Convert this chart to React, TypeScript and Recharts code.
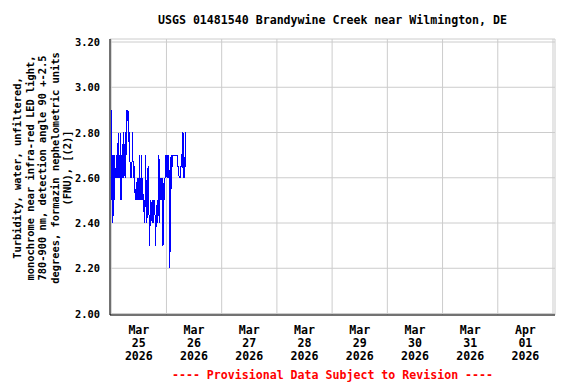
import React from 'react';
import { LineChart, Line, XAxis, YAxis, CartesianGrid } from 'recharts';

// 15-minute turbidity readings (FNU), starting Mar 25 2026 00:00
const turbidity = [
  2.9, 2.5, 2.7, 2.4,
  2.7, 2.5, 2.7, 2.6,
  2.6, 2.7, 2.6, 2.6,
  2.8, 2.6, 2.7, 2.6,
  2.8, 2.5, 2.7, 2.6,
  2.7, 2.8, 2.6, 2.75,
  2.6, 2.8, 2.7, 2.9,
  2.85, 2.9, 2.85, 2.75,
  2.8, 2.6, 2.65, 2.6,
  2.65, 2.8, 2.65, 2.6,
  2.65, 2.55, 2.5, 2.55,
  2.5, 2.6, 2.5, 2.6,
  2.5, 2.7, 2.5, 2.6,
  2.5, 2.7, 2.5, 2.55,
  2.45, 2.5, 2.4, 2.5,
  2.7, 2.45, 2.4, 2.5,
  2.65, 2.5, 2.4, 2.3,
  2.5, 2.4, 2.45, 2.5,
  2.4, 2.5, 2.4, 2.5,
  2.45, 2.3, 2.4, 2.45,
  2.5, 2.4, 2.5, 2.7,
  2.4, 2.6, 2.5, 2.6,
  2.5, 2.6, 2.3, 2.5,
  2.6, 2.5, 2.7, 2.6,
  2.7, 2.6, 2.7, 2.6,
  2.7, 2.55, 2.2, 2.6,
  2.7, 2.55, 2.7, 2.7,
  2.7, 2.7, 2.7, 2.7,
  2.7, 2.7, 2.7, 2.7,
  2.65, 2.65, 2.6, 2.6,
  2.6, 2.65, 2.65, 2.7,
  2.8, 2.6, 2.8, 2.6,
  2.6, 2.8, 2.8,
];
const stepHours = 0.25;

const dayLabels = [
  ['Mar', '25', '2026'],
  ['Mar', '26', '2026'],
  ['Mar', '27', '2026'],
  ['Mar', '28', '2026'],
  ['Mar', '29', '2026'],
  ['Mar', '30', '2026'],
  ['Mar', '31', '2026'],
  ['Apr', '01', '2026'],
];

const yTicks = [2.0, 2.2, 2.4, 2.6, 2.8, 3.0, 3.2];

const yLabelLines = [
  'Turbidity, water, unfiltered,',
  'monochrome near infra-red LED light,',
  '780-900 nm, detection angle 90 +-2.5',
  'degrees, formazin nephelometric units',
  '(FNU), [(2)]',
];

const data = turbidity.map((v, i) => ({ t: i * stepHours, v }));
const labelTicks = dayLabels.map((_, i) => i * 24 + 12);
const gridTicks = [...dayLabels.map((_, i) => i * 24), dayLabels.length * 24];

const xDomain = [-0.54, 192.87];
const yDomain = [1.9934, 3.2133];
const font = '"DejaVu Sans Mono", monospace';
const fs = 11.6;
const fsSmall = 10.4;

const DayTick = (props: any) => {
  const { x, y, payload } = props;
  const idx = labelTicks.indexOf(payload.value);
  const lines = dayLabels[idx] || [];
  return (
    <text x={x} y={y} textAnchor="middle" fontFamily={font} fontWeight="bold" fontSize={fs} fill="#000">
      {lines.map((s, i) => (
        <tspan key={i} x={x} y={y + 11 + i * 13}>{s}</tspan>
      ))}
    </text>
  );
};

const ValueTick = (props: any) => {
  const { x, y, payload } = props;
  return (
    <text x={x} y={y} dy={4} textAnchor="end" fontFamily={font} fontWeight="bold" fontSize={fsSmall} fill="#000">
      {Number(payload.value).toFixed(2)}
    </text>
  );
};

export default function App() {
  return (
    <div style={{ position: 'absolute', left: 0, top: 0, width: 576, height: 384, background: '#fff' }}>
      <LineChart width={576} height={384} data={data} margin={{ top: 39, right: 21, bottom: 39, left: 10 }}>
        <text x={332.5} y={24} textAnchor="middle" fontFamily={font} fontWeight="bold" fontSize={fs} fill="#000">
          USGS 01481540 Brandywine Creek near Wilmington, DE
        </text>
        {yLabelLines.map((s, i) => {
          const cx = 17 + i * 12.6;
          return (
            <text key={i} x={cx} y={168} transform={`rotate(-90 ${cx} 168)`} textAnchor="middle"
              dominantBaseline="central" fontFamily={font} fontWeight="bold" fontSize={fsSmall} fill="#000">
              {s}
            </text>
          );
        })}
        <text x={332.5} y={379} textAnchor="middle" fontFamily={font} fontWeight="bold" fontSize={fs} fill="#ff0000">
          ---- Provisional Data Subject to Revision ----
        </text>
        <XAxis xAxisId="grid" dataKey="t" type="number" domain={xDomain} ticks={gridTicks} allowDataOverflow hide />
        <CartesianGrid xAxisId="grid" stroke="#cccccc" strokeWidth={1} />
        <XAxis dataKey="t" type="number" domain={xDomain} ticks={labelTicks} allowDataOverflow height={30}
          tickLine={false} axisLine={{ stroke: '#000' }} tick={<DayTick />} interval={0} />
        <XAxis xAxisId="top" orientation="top" dataKey="t" type="number" domain={xDomain} allowDataOverflow
          height={0} tick={false} tickLine={false} axisLine={{ stroke: '#000' }} />
        <YAxis type="number" domain={yDomain} ticks={yTicks} allowDataOverflow width={100}
          tickLine={false} tickMargin={4} axisLine={{ stroke: '#000' }} tick={<ValueTick />} interval={0} />
        <YAxis yAxisId="right" orientation="right" type="number" domain={yDomain} allowDataOverflow width={0}
          tick={false} tickLine={false} axisLine={{ stroke: '#000' }} />
        <Line type="linear" dataKey="v" stroke="#0000ff" strokeWidth={1} dot={false} isAnimationActive={false}
          shapeRendering="crispEdges" />
      </LineChart>
    </div>
  );
}
